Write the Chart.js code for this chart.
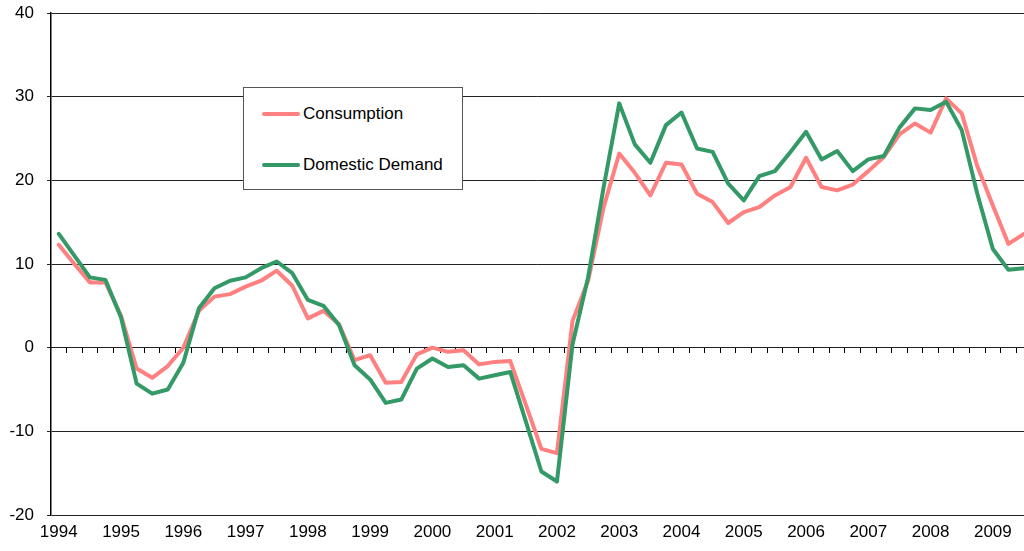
<!DOCTYPE html>
<html>
<head>
<meta charset="utf-8">
<title>Consumption and Domestic Demand</title>
<script src="https://cdn.jsdelivr.net/npm/chart.js@4.4.0/dist/chart.umd.min.js"></script>
<style>
  html, body { margin: 0; padding: 0; background: #fff; overflow: hidden; }
  #wrap { position: relative; width: 1024px; height: 551px; }
  #legend {
    position: absolute; left: 243px; top: 87px; width: 218px; height: 101px;
    border: 1px solid #555; background: #fff;
    font-family: 'Liberation Sans', Arial, sans-serif; font-size: 17px; color: #000;
  }
  .item { position: absolute; left: 18px; height: 20px; display: flex; align-items: center; white-space: nowrap; }
  .swatch { width: 38px; height: 4px; border-radius: 2px; margin-right: 3px; }
</style>
</head>
<body>
<div id="wrap">
  <canvas id="chart" width="1024" height="551"></canvas>
  <div id="legend"></div>
</div>
<script>
  // ==================== Data ====================
  const years = ['1994', '1995', '1996', '1997', '1998', '1999', '2000', '2001',
                 '2002', '2003', '2004', '2005', '2006', '2007', '2008', '2009'];
  const quarters = ['Q1', 'Q2', 'Q3', 'Q4'];

  // quarterly values, 1994 Q1 .. 2009 Q3
  const consumption = [
    12.3, 10.0, 7.8, 7.8,     3.8, -2.5, -3.6, -2.2,    0.0, 4.4, 6.1, 6.4,
    7.3, 8.0, 9.2, 7.4,       3.5, 4.4, 2.8, -1.5,      -0.9, -4.2, -4.1, -0.8,
    0.0, -0.5, -0.3, -2.0,    -1.7, -1.6, -6.8, -12.1,  -12.6, 3.2, 8.0, 16.8,
    23.2, 20.9, 18.2, 22.1,   21.9, 18.4, 17.4, 14.9,   16.2, 16.8, 18.2, 19.2,
    22.7, 19.2, 18.8, 19.5,   21.1, 22.8, 25.5, 26.8,   25.7, 29.8, 28.0, 21.7,
    17.0, 12.4, 13.6
  ];
  const domesticDemand = [
    13.6, 11.0, 8.4, 8.1,     3.6, -4.3, -5.5, -5.0,    -1.8, 4.7, 7.1, 8.0,
    8.4, 9.5, 10.3, 8.9,      5.7, 5.0, 2.7, -2.1,      -3.8, -6.6, -6.2, -2.5,
    -1.3, -2.3, -2.1, -3.7,   -3.3, -2.9, -8.8, -14.8,  -16.0, 0.4, 8.4, 19.2,
    29.2, 24.3, 22.1, 26.6,   28.1, 23.8, 23.4, 19.6,   17.6, 20.5, 21.1, 23.4,
    25.8, 22.5, 23.5, 21.1,   22.5, 22.9, 26.3, 28.6,   28.4, 29.4, 26.0, 18.4,
    11.8, 9.3, 9.5
  ];

  const yTicks = [-20, -10, 0, 10, 20, 30, 40];

  const COLORS = { consumption: '#ff8080', domestic: '#339966' };
  const FONT = { family: "'Liberation Sans', Arial, sans-serif", size: 17 };

  // ==================== Build ====================
  const periods = years.flatMap(y => quarters.map(q => y + ' ' + q)).slice(0, consumption.length);
  const lastIdx = periods.length - 1;
  const toPoints = arr => arr.map((v, i) => ({ x: i, y: v }));

  const lineStyle = {
    borderWidth: 4,
    pointRadius: 0,
    tension: 0,
    fill: false,
    borderJoinStyle: 'round',
    borderCapStyle: 'round'
  };

  const chart = new Chart(document.getElementById('chart'), {
    type: 'line',
    data: {
      datasets: [
        { label: 'Consumption', data: toPoints(consumption), borderColor: COLORS.consumption, order: 1, ...lineStyle },
        { label: 'Domestic Demand', data: toPoints(domesticDemand), borderColor: COLORS.domestic, order: 0, ...lineStyle }
      ]
    },
    options: {
      responsive: false,
      animation: false,
      layout: { padding: { top: 13, right: 0, bottom: 0, left: 0 } },
      plugins: { legend: { display: false }, tooltip: { enabled: false } },
      scales: {
        // year labels along the bottom
        x: {
          type: 'linear',
          position: 'bottom',
          min: -0.5,
          max: lastIdx,
          afterBuildTicks: s => { s.ticks = years.map((y, i) => ({ value: i * 4 })); },
          afterFit: s => { s.height = 36; s.paddingLeft = 0; s.paddingRight = 0; },
          ticks: {
            autoSkip: false, maxRotation: 0, padding: 7, color: '#000', font: FONT,
            callback: (v, i) => years[i]
          },
          grid: { display: false, drawTicks: false },
          border: { display: false }
        },
        // category axis crossing at zero, with tick marks between quarters
        x0: {
          type: 'linear',
          axis: 'x',
          position: { y: 0 },
          min: -0.5,
          max: lastIdx,
          afterBuildTicks: s => { s.ticks = periods.slice(0, -1).map((p, i) => ({ value: i + 0.5 })); },
          ticks: { display: false },
          grid: { drawOnChartArea: false, drawTicks: true, tickLength: 5, color: '#000', lineWidth: 1 },
          border: { display: true, color: '#222', width: 1 }
        },
        y: {
          type: 'linear',
          min: -20,
          max: 40,
          afterBuildTicks: s => { s.ticks = yTicks.map(v => ({ value: v })); },
          afterFit: s => { s.width = 51; s.paddingTop = 0; s.paddingBottom = 0; },
          ticks: { padding: 13, color: '#000', font: FONT },
          grid: { color: '#222', lineWidth: 1, drawTicks: true, tickLength: 4 },
          border: { display: true, color: '#000', width: 1.5 }
        }
      }
    }
  });

  // ==================== Legend ====================
  const legend = document.getElementById('legend');
  const rowTops = [16, 67];
  chart.data.datasets.forEach((ds, i) => {
    const item = document.createElement('div');
    item.className = 'item';
    item.style.top = rowTops[i] + 'px';
    item.innerHTML = `<span class="swatch" style="background:${ds.borderColor}"></span><span>${ds.label}</span>`;
    legend.appendChild(item);
  });
</script>
</body>
</html>
